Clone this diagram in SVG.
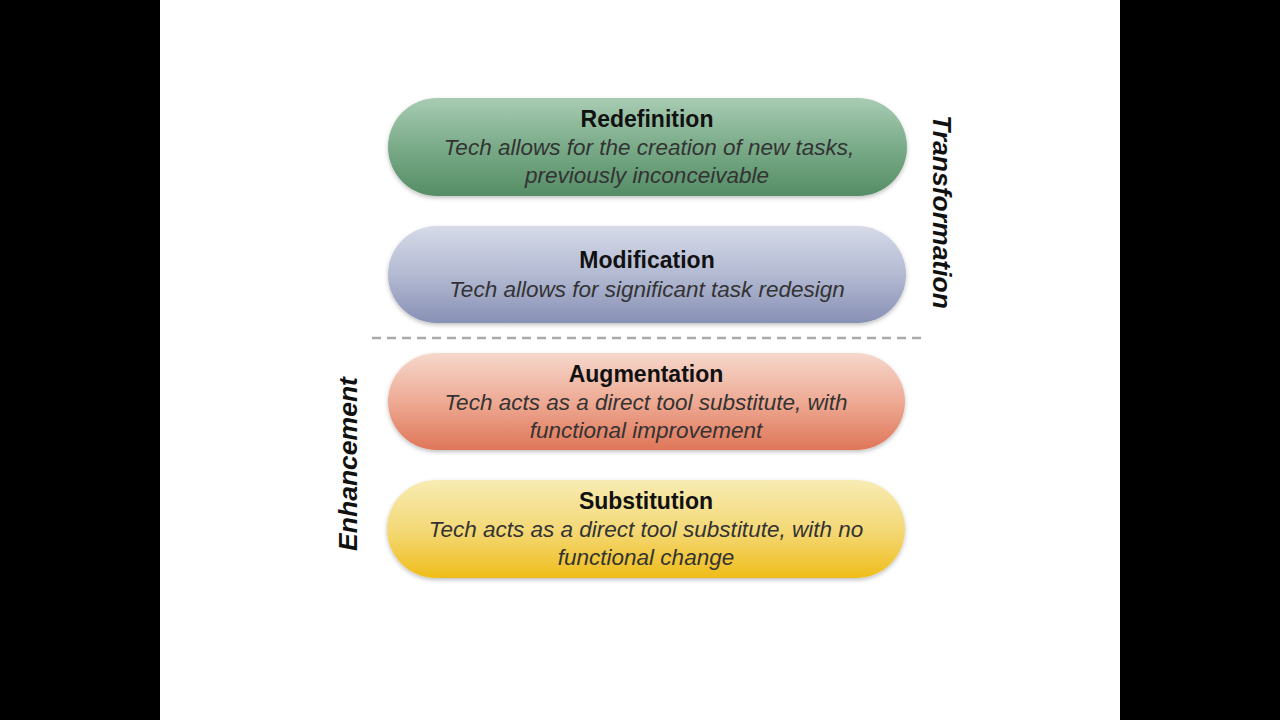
<svg xmlns="http://www.w3.org/2000/svg" width="1280" height="720" viewBox="0 0 1280 720">
<defs>
<linearGradient id="gGreen" x1="0" y1="0" x2="0" y2="1"><stop offset="0" stop-color="#a8ccb3"/><stop offset="0.5" stop-color="#7aab89"/><stop offset="1" stop-color="#558d65"/></linearGradient>
<linearGradient id="gBlue" x1="0" y1="0" x2="0" y2="1"><stop offset="0" stop-color="#d6dae8"/><stop offset="0.5" stop-color="#b3bad2"/><stop offset="1" stop-color="#8890b5"/></linearGradient>
<linearGradient id="gRed" x1="0" y1="0" x2="0" y2="1"><stop offset="0" stop-color="#f6d8cc"/><stop offset="0.5" stop-color="#eeaa94"/><stop offset="1" stop-color="#df7658"/></linearGradient>
<linearGradient id="gYel" x1="0" y1="0" x2="0" y2="1"><stop offset="0" stop-color="#f8ecb4"/><stop offset="0.5" stop-color="#f4d978"/><stop offset="1" stop-color="#efbd1a"/></linearGradient>
<filter id="sh" x="-5%" y="-10%" width="110%" height="130%"><feDropShadow dx="0" dy="2" stdDeviation="2" flood-color="#000" flood-opacity="0.25"/></filter>
</defs>
<style>
.t{font-family:"Liberation Sans",Arial,sans-serif;font-weight:bold;font-size:23px;fill:#111;text-anchor:middle}
.d{font-family:"Liberation Sans",Arial,sans-serif;font-style:italic;font-size:22.5px;fill:#333;text-anchor:middle}
.side{font-family:"Liberation Sans",Arial,sans-serif;font-style:italic;font-weight:bold;font-size:26.5px;fill:#111;text-anchor:middle}
</style>
<rect x="0" y="0" width="1280" height="720" fill="#000"/>
<rect x="160" y="0" width="960" height="720" fill="#fff"/>
<g id="redefinition">
<rect x="388" y="98" width="519" height="98" rx="49" fill="url(#gGreen)" filter="url(#sh)"/>
<text class="t" x="647" y="127">Redefinition</text>
<text class="d" x="649" y="155">Tech allows for the creation of new tasks,</text>
<text class="d" x="647" y="183">previously inconceivable</text>
</g>
<g id="modification">
<rect x="388" y="226" width="518" height="97" rx="48.5" fill="url(#gBlue)" filter="url(#sh)"/>
<text class="t" x="647" y="268">Modification</text>
<text class="d" x="647" y="297">Tech allows for significant task redesign</text>
</g>
<g id="augmentation">
<rect x="388" y="353" width="517" height="97" rx="48.5" fill="url(#gRed)" filter="url(#sh)"/>
<text class="t" x="646" y="382">Augmentation</text>
<text class="d" x="646" y="410">Tech acts as a direct tool substitute, with</text>
<text class="d" x="646" y="438">functional improvement</text>
</g>
<g id="substitution">
<rect x="387" y="480" width="518" height="98" rx="49" fill="url(#gYel)" filter="url(#sh)"/>
<text class="t" x="646" y="509">Substitution</text>
<text class="d" x="646" y="537">Tech acts as a direct tool substitute, with no</text>
<text class="d" x="646" y="565">functional change</text>
</g>
<g id="connectors">
<line x1="372" y1="338" x2="922" y2="338" stroke="#aaa" stroke-width="2.5" stroke-dasharray="9,6"/>
</g>
<g id="transformation">
<text class="side" transform="translate(933,212) rotate(90)">Transformation</text>
</g>
<g id="enhancement">
<text class="side" transform="translate(357,464) rotate(-90)">Enhancement</text>
</g>
</svg>
